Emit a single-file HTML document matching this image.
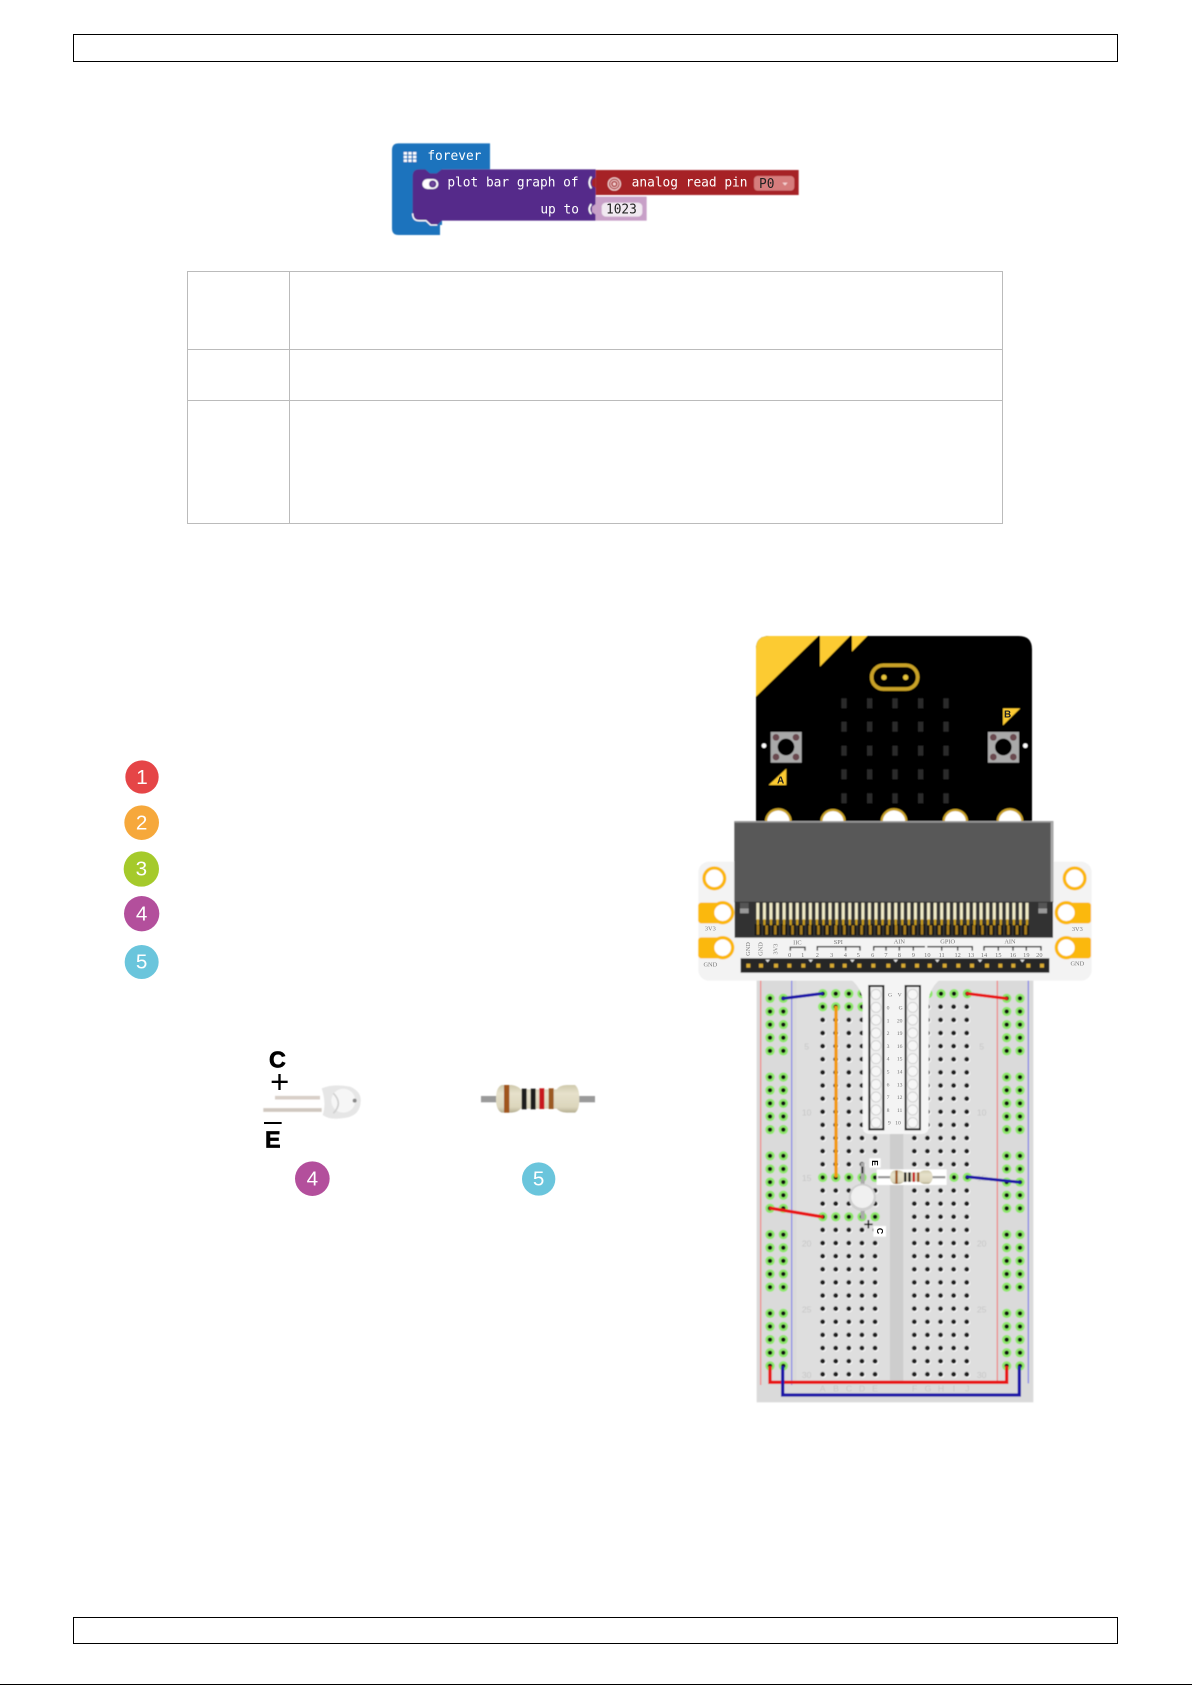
<!DOCTYPE html>
<html><head><meta charset="utf-8"><style>
html,body{margin:0;padding:0;background:#fff}
svg{display:block}
</style></head><body>
<svg width="1192" height="1685" viewBox="0 0 1192 1685" xmlns="http://www.w3.org/2000/svg">
<defs>
<filter id="b" x="-5%" y="-5%" width="110%" height="110%"><feGaussianBlur stdDeviation="1.3"/></filter>
<filter id="t" x="-5%" y="-20%" width="110%" height="140%"><feGaussianBlur stdDeviation="0.9"/></filter>
<linearGradient id="rb" x1="0" y1="0" x2="0" y2="1"><stop offset="0" stop-color="#cfc9ac"/><stop offset=".3" stop-color="#e6e1cb"/><stop offset=".8" stop-color="#dcd6bc"/><stop offset="1" stop-color="#b5ae92"/></linearGradient>
<pattern id="holes" patternUnits="userSpaceOnUse" x="228.5" y="51.5" width="39.3" height="39.38">
<circle cx="21.5" cy="21.5" r="9" fill="#fff" opacity=".75"/><circle cx="19.5" cy="19.5" r="7.2" fill="#1c1c1c"/></pattern>
<pattern id="railL" patternUnits="userSpaceOnUse" x="70" y="65.5" width="40" height="39.38">
<circle cx="20" cy="19.5" r="14" fill="#8ee86a"/><circle cx="20" cy="19.5" r="6.5" fill="#0c0c0c"/></pattern>
<pattern id="railR" patternUnits="userSpaceOnUse" x="780" y="65.5" width="40" height="39.38">
<circle cx="20" cy="19.5" r="14" fill="#8ee86a"/><circle cx="20" cy="19.5" r="6.5" fill="#0c0c0c"/></pattern>
<pattern id="g15" patternUnits="userSpaceOnUse" x="228.5" y="51.5" width="39.3" height="39.38">
<circle cx="19.5" cy="19.5" r="14" fill="#8ee86a"/><circle cx="19.5" cy="19.5" r="6.5" fill="#0c0c0c"/></pattern>
<pattern id="teeth" patternUnits="userSpaceOnUse" x="226" y="848" width="19.7" height="100">
<rect x="3" y="0" width="9" height="52" fill="#f2ecc8"/><rect x="4" y="50" width="7" height="18" fill="#c79c1c"/></pattern>
<pattern id="cont" patternUnits="userSpaceOnUse" x="222" y="900" width="25.9" height="60">
<rect x="2" y="12" width="20" height="34" fill="#161616"/><rect x="8" y="16" width="8" height="28" fill="#a67c1a"/></pattern>
</defs>
<rect width="1192" height="1685" fill="#fff"/>

<!-- header / footer frames -->
<rect x="73.5" y="34.5" width="1044" height="27" fill="none" stroke="#000" stroke-width="1"/>
<rect x="73.5" y="1617.5" width="1044" height="26" fill="none" stroke="#000" stroke-width="1"/>
<rect x="0" y="1684" width="1192" height="1" fill="#000"/>

<!-- table -->
<g fill="none" stroke="#bbb" stroke-width="1">
<rect x="187.5" y="271.5" width="815" height="252"/>
<path d="M289.5 271.5V523.5M187.5 349.5H1002.5M187.5 400.5H1002.5"/>
</g>

<!-- makecode blocks -->
<g transform="translate(360 130) scale(.33333)">
<g filter="url(#b)">
<path d="M116 40H390V118H246V285H240V315H116Q96 315 96 295V60Q96 40 116 40Z" fill="#1d73bd"/>
<path d="M178 118H196L210 130H230L245 118H707V272H245L232 285H212L198 272H178Q158 272 158 252V138Q158 118 178 118Z" fill="#552a8a"/>
<path d="M158 250Q158 272 178 272H198L212 285H232" fill="none" stroke="#fff" stroke-width="4"/>
<rect x="707" y="120" width="609" height="75" fill="#a62227"/>
<rect x="707" y="200" width="153" height="72" fill="#c8a0c8"/>
<rect x="725" y="218" width="122" height="42" rx="13" fill="#f1e9f1"/>
<path d="M694 140Q682 158 694 175M694 222Q682 238 694 252" fill="none" stroke="#fff" stroke-width="5"/>
<path d="M707 142L696 150V166L707 174Z" fill="#a62227"/>
<path d="M707 222L696 230V246L707 254Z" fill="#c8a0c8"/>
<rect x="1182" y="138" width="121" height="44" rx="11" fill="#d67d7d"/>
<g fill="#fff">
<rect x="131" y="66" width="10" height="8"/><rect x="145" y="66" width="10" height="8"/><rect x="159" y="66" width="10" height="8"/>
<rect x="131" y="77" width="10" height="8"/><rect x="145" y="77" width="10" height="8"/><rect x="159" y="77" width="10" height="8"/>
<rect x="131" y="88" width="10" height="8"/><rect x="145" y="88" width="10" height="8"/><rect x="159" y="88" width="10" height="8"/>
</g>
<rect x="187" y="147" width="48" height="30" rx="15" fill="#fff"/>
<circle cx="218" cy="162" r="11" fill="#552a8a"/><circle cx="218" cy="162" r="6" fill="#fff" opacity=".15"/>
<circle cx="763" cy="162" r="18" fill="none" stroke="#f3d0d0" stroke-width="4"/><circle cx="763" cy="162" r="11" fill="none" stroke="#f3d0d0" stroke-width="3"/><circle cx="763" cy="162" r="5" fill="#f3d0d0"/>
<path d="M1267 158h16l-8 9z" fill="#f5d5d5"/>
</g>
<g font-family="'DejaVu Sans Mono',monospace" font-size="38.5" fill="#fff" filter="url(#t)">
<text x="202" y="90">forever</text>
<text x="262" y="170">plot bar graph of</text>
<text x="541" y="250">up to</text>
<text x="815" y="170">analog read pin</text>
<text x="1197" y="174" fill="#222">P0</text>
<text x="738" y="251" fill="#222">1023</text>
</g>
</g>

<!-- legend circles & LED/resistor parts -->
<g transform="translate(100 750) scale(.33333)">
<g font-family="'Liberation Sans',sans-serif" font-size="62" fill="#fff" text-anchor="middle">
<circle cx="126" cy="81" r="50" fill="#e54547"/><text x="126" y="102">1</text>
<circle cx="125" cy="218" r="52" fill="#f6a83b"/><text x="125" y="239">2</text>
<circle cx="124" cy="357" r="53" fill="#a5ca2b"/><text x="124" y="376">3</text>
<circle cx="125" cy="491" r="53" fill="#b34f9c"/><text x="125" y="512">4</text>
<circle cx="125" cy="636" r="51" fill="#6ac5dc"/><text x="125" y="656">5</text>
<circle cx="637" cy="1286" r="52" fill="#b34f9c"/><text x="637" y="1307">4</text>
<circle cx="1316" cy="1287" r="50" fill="#6ac5dc"/><text x="1316" y="1306">5</text>
</g>
<g font-family="'Liberation Sans',sans-serif" font-weight="700" fill="#000" stroke="#000" stroke-width="2">
<text x="507" y="952" font-size="70">C</text>
<rect x="515" y="992" width="48" height="7" stroke="none"/><rect x="535" y="972" width="7" height="48" stroke="none"/>
<rect x="492" y="1116" width="53" height="6" stroke="none"/>
<text x="495" y="1192" font-size="70">E</text>
</g>
<g filter="url(#b)">
<path d="M525 1043H660" stroke="#d8cfc8" stroke-width="11"/>
<path d="M490 1080H665" stroke="#d0c8c0" stroke-width="11"/>
<path d="M665 1015Q700 1000 750 1010Q785 1025 782 1055Q780 1095 740 1103Q690 1112 668 1095Q680 1060 665 1015Z" fill="#e6e6e6"/>
<ellipse cx="730" cy="1052" rx="36" ry="36" fill="#f6f6f6"/>
<path d="M700 1030Q730 1060 700 1090" fill="none" stroke="#d0d0d0" stroke-width="5"/>
<circle cx="764" cy="1052" r="6" fill="#888"/>
<rect x="1143" y="1038" width="342" height="19" fill="#9a9a9a"/>
<path d="M1205 1005H1235Q1255 1008 1262 1018H1370Q1378 1006 1400 1005H1425Q1438 1015 1438 1047Q1438 1080 1425 1088H1400Q1378 1087 1370 1076H1262Q1255 1086 1235 1088H1205Q1188 1080 1188 1047Q1188 1012 1205 1005Z" fill="url(#rb)"/>
<rect x="1212" y="1005" width="16" height="83" fill="#a0551c"/>
<rect x="1265" y="1016" width="15" height="62" fill="#1a1a1a"/>
<rect x="1292" y="1016" width="15" height="62" fill="#1a1a1a"/>
<rect x="1318" y="1015" width="15" height="62" fill="#c8141a"/>
<rect x="1346" y="1015" width="15" height="62" fill="#9c5a20"/>
</g>
</g>

<!-- breadboard -->
<g transform="translate(740 970) scale(.33333)">
<g filter="url(#b)">
<rect x="50" y="30" width="830" height="1267" fill="#dadada"/>
<rect x="170" y="30" width="600" height="1212" fill="#dedede"/>
<rect x="450" y="30" width="40" height="1212" fill="#cdcdcd"/>
<path d="M62 30V1245M772 30V1240" stroke="#ee8a8a" stroke-width="4"/>
<path d="M155 30V1245M865 30V1240" stroke="#8a8ae6" stroke-width="4"/>
<g font-family="'Liberation Sans',sans-serif" fill="#c6c6c6" font-size="26" text-anchor="middle">
<text x="200" y="238">5</text><text x="725" y="238">5</text>
<text x="200" y="436">10</text><text x="725" y="436">10</text>
<text x="200" y="633">15</text><text x="725" y="633">15</text>
<text x="200" y="830">20</text><text x="725" y="830">20</text>
<text x="200" y="1027">25</text><text x="725" y="1027">25</text>
<text x="200" y="1224">30</text><text x="725" y="1224">30</text>
<text x="248" y="1264">A</text><text x="288" y="1264">B</text><text x="327" y="1264">C</text><text x="366" y="1264">D</text><text x="405" y="1264">E</text>
<text x="524" y="1264">F</text><text x="564" y="1264">G</text><text x="603" y="1264">H</text><text x="642" y="1264">I</text><text x="682" y="1264">J</text>
</g>
<rect x="228" y="51" width="200" height="1183" fill="url(#holes)"/>
<rect x="504" y="51" width="200" height="1183" fill="url(#holes)"/>
<g fill="url(#railL)">
<rect x="70" y="65" width="80" height="197"/><rect x="70" y="301" width="80" height="197"/><rect x="70" y="537" width="80" height="197"/><rect x="70" y="774" width="80" height="197"/><rect x="70" y="1010" width="80" height="197"/>
</g>
<g fill="url(#railR)">
<rect x="780" y="65" width="80" height="197"/><rect x="780" y="301" width="80" height="197"/><rect x="780" y="537" width="80" height="197"/><rect x="780" y="774" width="80" height="197"/><rect x="780" y="1010" width="80" height="197"/>
</g>
<rect x="228" y="51" width="197" height="78" fill="url(#g15)"/>
<rect x="228" y="603" width="197" height="39" fill="url(#g15)"/>
<rect x="228" y="721" width="197" height="39" fill="url(#g15)"/>
<g>
<circle cx="564" cy="71" r="14" fill="#8ee86a"/><circle cx="564" cy="71" r="6.5" fill="#0c0c0c"/>
<circle cx="603" cy="71" r="14" fill="#8ee86a"/><circle cx="603" cy="71" r="6.5" fill="#0c0c0c"/>
<circle cx="642" cy="71" r="14" fill="#8ee86a"/><circle cx="642" cy="71" r="6.5" fill="#0c0c0c"/>
<circle cx="682" cy="71" r="14" fill="#8ee86a"/><circle cx="682" cy="71" r="6.5" fill="#0c0c0c"/>
<circle cx="642" cy="622" r="14" fill="#8ee86a"/><circle cx="642" cy="622" r="6.5" fill="#0c0c0c"/>
<circle cx="682" cy="622" r="14" fill="#8ee86a"/><circle cx="682" cy="622" r="6.5" fill="#0c0c0c"/>
</g>
<!-- tongue -->
<path d="M335 30H598Q570 55 566 90V470Q566 492 544 492H390Q368 492 368 470V90Q364 55 335 30Z" fill="#f4f4f4"/>
<!-- wires -->
<path d="M288 108V622" stroke="#f29a10" stroke-width="10"/>
<path d="M125 86L250 70" stroke="#1a12a8" stroke-width="9"/>
<path d="M678 70L803 86" stroke="#e81416" stroke-width="9"/>
<path d="M678 620L843 637" stroke="#1a12a8" stroke-width="9"/>
<path d="M88 714L250 741" stroke="#e81416" stroke-width="10"/>
<path d="M90 1188V1237H800V1188" fill="none" stroke="#e81416" stroke-width="10"/>
<path d="M128 1188V1275H838V1188" fill="none" stroke="#1a12a8" stroke-width="10"/>
<!-- connector strips -->
<rect x="388" y="48" width="42" height="430" fill="#eee" stroke="#1a1a1a" stroke-width="6"/>
<rect x="497" y="48" width="43" height="430" fill="#eee" stroke="#1a1a1a" stroke-width="6"/>
<g fill="#f6f6f6" stroke="#d2d2d2" stroke-width="3">
<circle cx="408" cy="73" r="15"/><circle cx="408" cy="112" r="15"/><circle cx="408" cy="150" r="15"/><circle cx="408" cy="189" r="15"/><circle cx="408" cy="227" r="15"/><circle cx="408" cy="266" r="15"/><circle cx="408" cy="304" r="15"/><circle cx="408" cy="343" r="15"/><circle cx="408" cy="381" r="15"/><circle cx="408" cy="420" r="15"/><circle cx="408" cy="458" r="15"/>
<circle cx="518" cy="73" r="15"/><circle cx="518" cy="112" r="15"/><circle cx="518" cy="150" r="15"/><circle cx="518" cy="189" r="15"/><circle cx="518" cy="227" r="15"/><circle cx="518" cy="266" r="15"/><circle cx="518" cy="304" r="15"/><circle cx="518" cy="343" r="15"/><circle cx="518" cy="381" r="15"/><circle cx="518" cy="420" r="15"/><circle cx="518" cy="458" r="15"/>
</g>
<!-- LED -->
<rect x="362" y="578" width="12" height="170" fill="#aaa"/>
<circle cx="367" cy="682" r="41" fill="#cfcfcf"/><circle cx="367" cy="680" r="34" fill="#f0f0f0"/>
<!-- resistor -->
<rect x="410" y="598" width="210" height="47" fill="#fff"/>
<rect x="414" y="618" width="202" height="7" fill="#999"/>
<path d="M462 601H478Q488 603 492 608H538Q542 603 552 601H566Q578 606 578 621Q578 636 566 642H552Q542 640 538 634H492Q488 640 478 642H462Q450 636 450 621Q450 606 462 601Z" fill="url(#rb)"/>
<rect x="466" y="601" width="7" height="41" fill="#9c5a20"/>
<rect x="492" y="607" width="7" height="29" fill="#1a1a1a"/><rect x="505" y="607" width="7" height="29" fill="#1a1a1a"/>
<rect x="518" y="607" width="7" height="29" fill="#c8141a"/><rect x="531" y="607" width="7" height="29" fill="#9c5a20"/>
<rect x="388" y="565" width="34" height="28" fill="#fff"/>
<rect x="400" y="768" width="38" height="32" fill="#fff"/>
<path d="M367 590V610" stroke="#111" stroke-width="5"/>
<path d="M373 763H398M385 750V775" stroke="#111" stroke-width="5"/>
</g>
<g font-family="'Liberation Serif',serif" fill="#777" font-size="17" text-anchor="middle">
<text x="450" y="80">G</text><text x="479" y="80">V</text>
<text x="444" y="118">0</text><text x="482" y="118">G</text>
<text x="444" y="157">1</text><text x="479" y="157">20</text>
<text x="444" y="195">2</text><text x="479" y="195">19</text>
<text x="444" y="234">3</text><text x="479" y="234">16</text>
<text x="444" y="272">4</text><text x="479" y="272">15</text>
<text x="444" y="311">5</text><text x="479" y="311">14</text>
<text x="444" y="349">6</text><text x="479" y="349">13</text>
<text x="444" y="387">7</text><text x="479" y="387">12</text>
<text x="444" y="426">8</text><text x="479" y="426">11</text>
<text x="448" y="464">9</text><text x="474" y="464">10</text>
</g>
<g font-family="'Liberation Sans',sans-serif" font-weight="700" font-size="26" fill="#000" text-anchor="middle">
<text x="405" y="588" transform="rotate(90 405 579)">E</text><text x="420" y="792" transform="rotate(90 420 783)">C</text>
</g>
</g>

<!-- micro:bit + edge connector -->
<g transform="translate(680 620) scale(.33333)">
<g filter="url(#b)">
<rect x="55" y="725" width="1180" height="357" rx="32" fill="#f3f3f3"/>
<path d="M268 48H1016Q1056 48 1056 88V606H228V88Q228 48 268 48Z" fill="#000"/>
<path d="M228 230V88Q228 48 268 48H415Z" fill="#fccb30"/>
<path d="M420 48H510L420 140Z" fill="#fccb30"/>
<path d="M516 48H562L516 95Z" fill="#fccb30"/>
<rect x="575" y="136" width="138" height="71" rx="35" fill="none" stroke="#c9a228" stroke-width="11"/>
<circle cx="612" cy="172" r="8" fill="#e6c33a"/><circle cx="677" cy="172" r="8" fill="#e6c33a"/>
<g fill="#2c2c2c">
<rect x="484" y="235" width="16" height="30"/><rect x="561" y="235" width="16" height="30"/><rect x="637" y="235" width="16" height="30"/><rect x="714" y="235" width="16" height="30"/><rect x="790" y="235" width="16" height="30"/>
<rect x="484" y="305" width="16" height="30"/><rect x="561" y="305" width="16" height="30"/><rect x="637" y="305" width="16" height="30"/><rect x="714" y="305" width="16" height="30"/><rect x="790" y="305" width="16" height="30"/>
<rect x="484" y="377" width="16" height="30"/><rect x="561" y="377" width="16" height="30"/><rect x="637" y="377" width="16" height="30"/><rect x="714" y="377" width="16" height="30"/><rect x="790" y="377" width="16" height="30"/>
<rect x="484" y="448" width="16" height="30"/><rect x="561" y="448" width="16" height="30"/><rect x="637" y="448" width="16" height="30"/><rect x="714" y="448" width="16" height="30"/><rect x="790" y="448" width="16" height="30"/>
<rect x="484" y="520" width="16" height="30"/><rect x="561" y="520" width="16" height="30"/><rect x="637" y="520" width="16" height="30"/><rect x="714" y="520" width="16" height="30"/><rect x="790" y="520" width="16" height="30"/>
</g>
<rect x="272" y="336" width="93" height="92" fill="#a9a9a9"/><circle cx="318" cy="381" r="25" fill="#000"/>
<g fill="#6b4a50"><circle cx="288" cy="352" r="10"/><circle cx="348" cy="352" r="10"/><circle cx="288" cy="411" r="10"/><circle cx="348" cy="411" r="10"/></g>
<rect x="924" y="336" width="93" height="92" fill="#a9a9a9"/><circle cx="970" cy="381" r="25" fill="#000"/>
<g fill="#6b4a50"><circle cx="940" cy="352" r="10"/><circle cx="1000" cy="352" r="10"/><circle cx="940" cy="411" r="10"/><circle cx="1000" cy="411" r="10"/></g>
<circle cx="252" cy="377" r="7" fill="#fff"/><circle cx="1036" cy="377" r="7" fill="#fff"/>
<path d="M266 495L319 446V495Z" fill="#fccb30"/>
<path d="M969 265H1021L969 316Z" fill="#fccb30"/>
<g fill="#fff" stroke="#c9a228" stroke-width="7">
<circle cx="295" cy="605" r="37"/><circle cx="459" cy="605" r="35"/><circle cx="642" cy="605" r="37"/><circle cx="826" cy="605" r="35"/><circle cx="990" cy="605" r="37"/>
</g>
<rect x="163" y="605" width="957" height="242" fill="#595959"/>
<rect x="163" y="603" width="957" height="5" fill="#9a9a9a"/>
<rect x="1112" y="605" width="8" height="242" fill="#aaa"/>
<rect x="164" y="845" width="955" height="108" fill="#333"/>
<rect x="222" y="905" width="830" height="45" fill="url(#cont)"/>
<rect x="226" y="848" width="830" height="68" fill="url(#teeth)"/>
<rect x="180" y="848" width="26" height="16" fill="#555"/><rect x="180" y="865" width="26" height="15" fill="#999"/>
<rect x="1075" y="848" width="26" height="16" fill="#555"/><rect x="1075" y="865" width="26" height="15" fill="#999"/>
<g fill="#fff" stroke="#fbb80f" stroke-width="10">
<circle cx="103" cy="775" r="31"/><circle cx="1184" cy="775" r="31"/>
</g>
<g fill="#fbb80f">
<rect x="55" y="848" width="75" height="62" rx="8"/><rect x="55" y="952" width="75" height="63" rx="8"/>
<rect x="1158" y="848" width="75" height="62" rx="8"/><rect x="1158" y="952" width="75" height="63" rx="8"/>
</g>
<g fill="#fff" stroke="#fbb80f" stroke-width="10">
<circle cx="128" cy="878" r="30"/><circle cx="128" cy="983" r="30"/><circle cx="1159" cy="878" r="30"/><circle cx="1159" cy="983" r="30"/>
</g>
<rect x="182" y="1015" width="926" height="43" fill="#262626"/>
<g fill="#d8aa30">
<rect x="199" y="1031" width="12" height="12"/><rect x="237" y="1031" width="12" height="12"/><rect x="282" y="1031" width="12" height="12"/><rect x="322" y="1031" width="12" height="12"/><rect x="364" y="1031" width="12" height="12"/><rect x="409" y="1031" width="12" height="12"/><rect x="450" y="1031" width="12" height="12"/><rect x="488" y="1031" width="12" height="12"/><rect x="532" y="1031" width="12" height="12"/><rect x="574" y="1031" width="12" height="12"/><rect x="619" y="1031" width="12" height="12"/><rect x="664" y="1031" width="12" height="12"/><rect x="705" y="1031" width="12" height="12"/><rect x="743" y="1031" width="12" height="12"/><rect x="788" y="1031" width="12" height="12"/><rect x="829" y="1031" width="12" height="12"/><rect x="870" y="1031" width="12" height="12"/><rect x="915" y="1031" width="12" height="12"/><rect x="955" y="1031" width="12" height="12"/><rect x="994" y="1031" width="12" height="12"/><rect x="1039" y="1031" width="12" height="12"/><rect x="1080" y="1031" width="12" height="12"/>
</g>
<g fill="#e8e8e8">
<path d="M256 1019h14l-7 8z"/><path d="M385 1019h14l-7 8z"/><path d="M510 1019h14l-7 8z"/><path d="M640 1019h14l-7 8z"/><path d="M765 1019h14l-7 8z"/><path d="M893 1019h14l-7 8z"/><path d="M1020 1019h14l-7 8z"/>
</g>
<g fill="none" stroke="#222" stroke-width="4">
<path d="M331 992V982H375V992"/><path d="M412 992V980H540V992M497 980V992"/>
<path d="M581 992V980H735M618 980V992M658 980V992M700 980V992"/>
<path d="M742 980H877V992M785 980V992M833 980V992"/>
<path d="M912 992V980H1083V992M955 980V992M999 980V992M1039 980V992"/>
</g>
</g>
<g font-family="'Liberation Sans',sans-serif" font-weight="700" font-size="30" fill="#222" text-anchor="middle">
<text x="302" y="491">A</text><text x="983" y="293">B</text>
</g>
<g font-family="'Liberation Serif',serif" font-size="19" fill="#777" text-anchor="middle">
<text x="91" y="931">3V3</text><text x="91" y="1039">GND</text>
<text x="1192" y="933">3V3</text><text x="1192" y="1036">GND</text>
<text x="352" y="974">IIC</text><text x="475" y="972">SPI</text><text x="658" y="971">AIN</text><text x="803" y="971">GPIO</text><text x="990" y="971">AIN</text>
<text x="329" y="1011">0</text><text x="368" y="1011">1</text><text x="412" y="1011">2</text><text x="455" y="1011">3</text><text x="496" y="1011">4</text><text x="535" y="1011">5</text><text x="578" y="1011">6</text><text x="618" y="1011">7</text><text x="658" y="1011">8</text><text x="700" y="1011">9</text><text x="742" y="1011">10</text><text x="785" y="1011">11</text><text x="833" y="1011">12</text><text x="873" y="1011">13</text><text x="912" y="1011">14</text><text x="955" y="1011">15</text><text x="999" y="1011">16</text><text x="1039" y="1011">19</text><text x="1078" y="1011">20</text>
<text transform="translate(210 987) rotate(-90)">GND</text>
<text transform="translate(248 987) rotate(-90)">GND</text>
<text transform="translate(293 987) rotate(-90)">3V3</text>
</g>
</g>
</svg>
</body></html>
